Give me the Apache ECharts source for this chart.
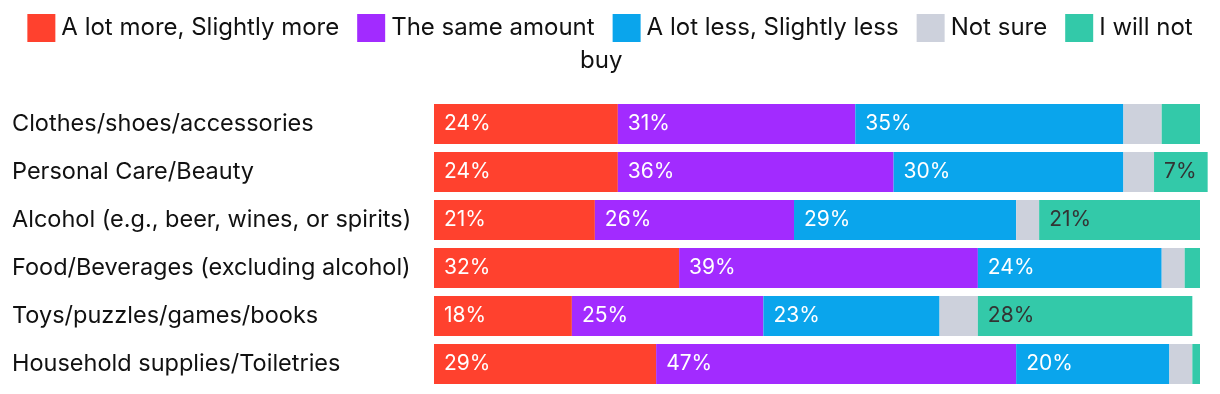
<!DOCTYPE html>
<html>
<head>
<meta charset="utf-8">
<script src="https://cdn.jsdelivr.net/npm/echarts@6/dist/echarts.min.js"></script>
<style>html,body{margin:0;padding:0;background:#fff}#c{width:1220px;height:394px}</style>
</head>
<body>
<div id="c"></div>
<script>
const categories = [
  "Clothes/shoes/accessories",
  "Personal Care/Beauty",
  "Alcohol (e.g., beer, wines, or spirits)",
  "Food/Beverages (excluding alcohol)",
  "Toys/puzzles/games/books",
  "Household supplies/Toiletries"
];
const seriesNames = ["A lot more, Slightly more", "The same amount", "A lot less, Slightly less", "Not sure", "I will not buy"];
const moreValues   = [24, 24, 21, 32, 18, 29];
const sameValues   = [31, 36, 26, 39, 25, 47];
const lessValues   = [35, 30, 29, 24, 23, 20];
const notSureValues = [5, 4, 3, 3, 5, 3];
const willNotValues = [5, 7, 21, 2, 28, 1];
const colors = ["#FF412E", "#A22BFF", "#0AA5EC", "#CDD1DC", "#33C9A9"];
const labelColors = ["#fff", "#fff", "#fff", "#333", "#333"];
const FONT = "Inter";

const allValues = [moreValues, sameValues, lessValues, notSureValues, willNotValues];
const chart = echarts.init(document.getElementById('c'), null, {renderer: 'canvas'});
chart.setOption({
  animation: false,
  textStyle: {fontFamily: FONT},
  legend: {
    top: 14, left: 'center', padding: 0,
    itemWidth: 28, itemHeight: 28, itemGap: 18,
    icon: 'rect',
    textStyle: {fontSize: 24, color: '#111', fontFamily: FONT, padding: [0, 0, 0, 1]},
    formatter: n => n === "I will not buy" ? "I will not" : n,
    data: seriesNames
  },
  graphic: [{
    type: 'text', left: 580, top: 49,
    style: {text: 'buy', fontSize: 24, fill: '#111', fontFamily: FONT}
  }],
  grid: {left: 434, right: 20, top: 100, bottom: 6, containLabel: false},
  xAxis: {type: 'value', min: 0, max: 100, show: false},
  yAxis: {
    type: 'category', data: categories, inverse: true,
    axisLine: {show: false}, axisTick: {show: false},
    axisLabel: {align: 'left', margin: 422, fontSize: 23.5, color: '#111', fontFamily: FONT, padding: [0, 0, 3, 0]}
  },
  series: seriesNames.map((name, i) => ({
    name, type: 'bar', stack: 'total', barWidth: 40, clip: false,
    itemStyle: {color: colors[i]},
    label: {
      show: true, position: 'insideLeft', distance: 10,
      fontSize: 21, color: labelColors[i], fontFamily: FONT,
      formatter: p => p.value >= 7 ? p.value + '%' : ''
    },
    data: allValues[i]
  }))
});
</script>
</body>
</html>
